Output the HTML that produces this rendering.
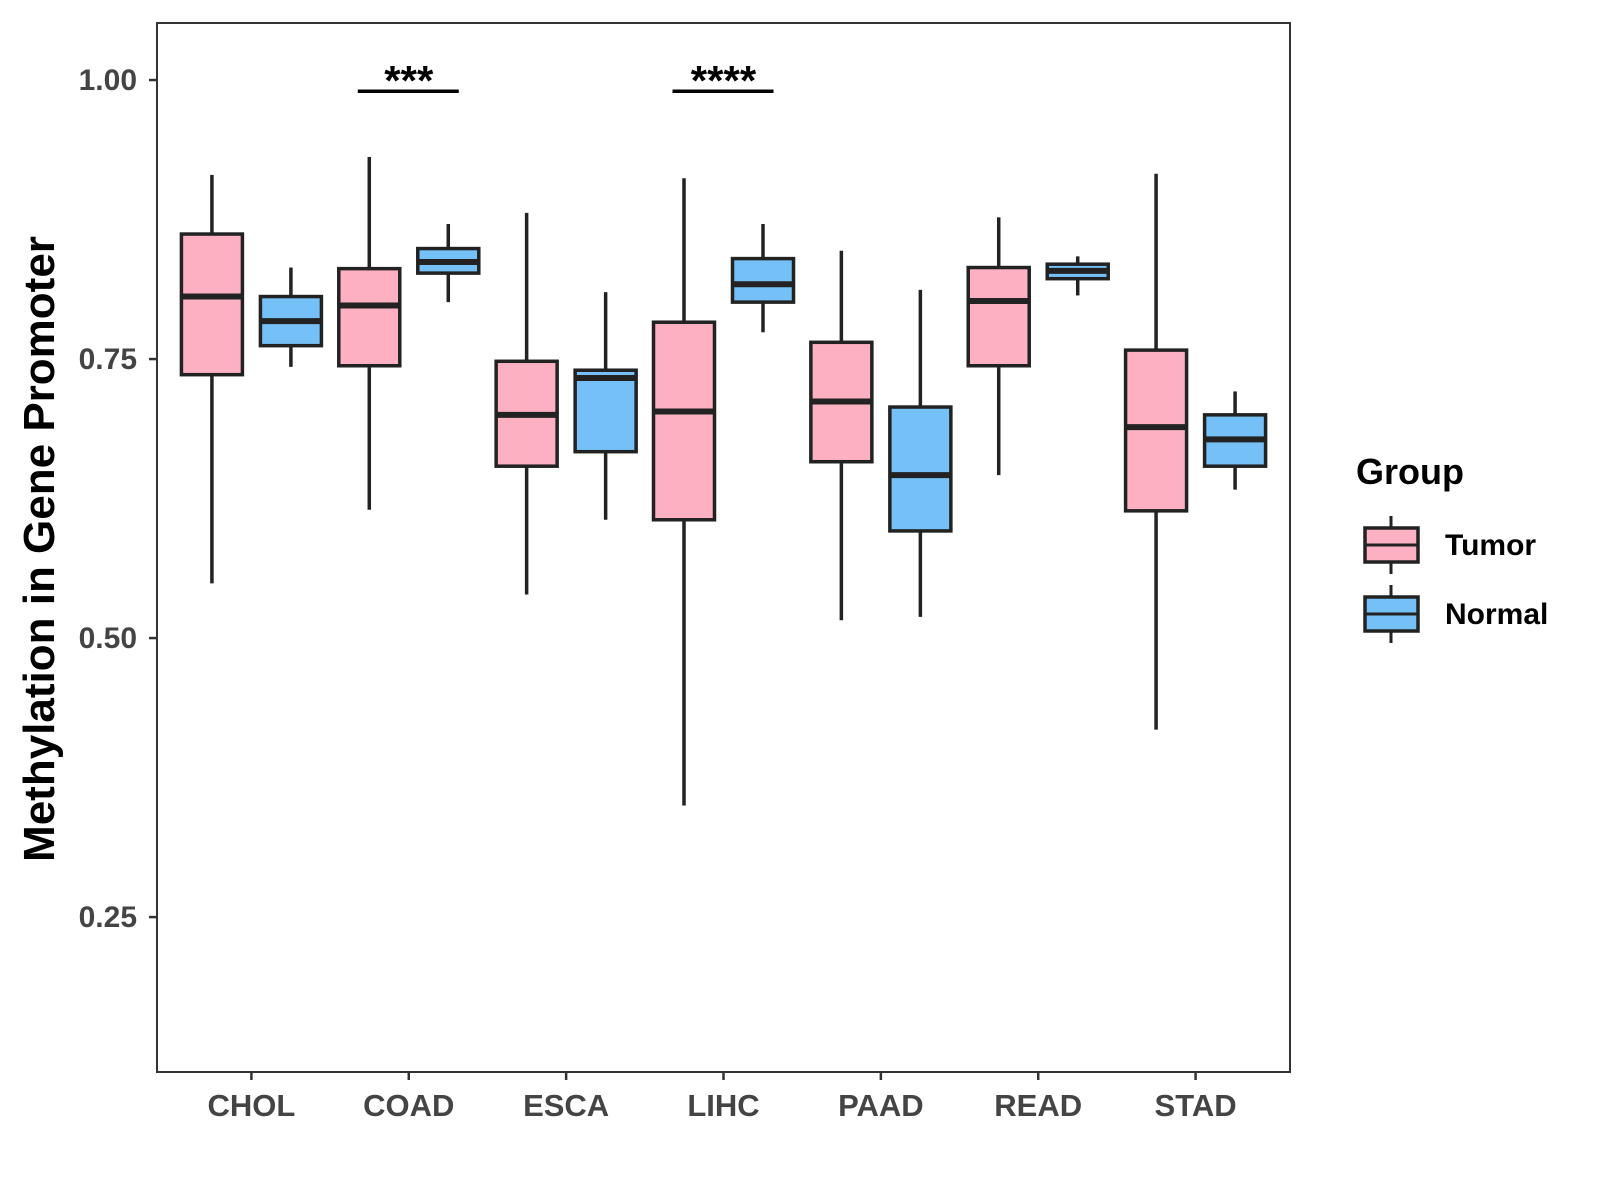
<!DOCTYPE html>
<html><head><meta charset="utf-8"><style>
html,body{margin:0;padding:0;background:#fff;}
svg{display:block;font-family:"Liberation Sans",Arial,sans-serif;}
</style></head><body>
<svg id="chart" width="1600" height="1200" viewBox="0 0 1600 1200">
<rect x="0" y="0" width="1600" height="1200" fill="#fff"/>
<g id="plot"></g>
</svg>
<script>
const categories = ["CHOL","COAD","ESCA","LIHC","PAAD","READ","STAD"];
// [lower whisker, Q1, median, Q3, upper whisker]
const tumorStats = [
 [0.549,0.736,0.806,0.862,0.915],
 [0.615,0.744,0.798,0.831,0.931],
 [0.539,0.654,0.700,0.748,0.881],
 [0.350,0.606,0.703,0.783,0.912],
 [0.516,0.658,0.712,0.765,0.847],
 [0.646,0.744,0.802,0.832,0.877],
 [0.418,0.614,0.689,0.758,0.916]
];
const normalStats = [
 [0.743,0.762,0.784,0.806,0.832],
 [0.801,0.827,0.837,0.849,0.871],
 [0.606,0.667,0.733,0.740,0.810],
 [0.774,0.801,0.817,0.840,0.871],
 [0.519,0.596,0.646,0.707,0.812],
 [0.807,0.822,0.829,0.835,0.842],
 [0.633,0.654,0.678,0.700,0.721]
];
const yTicks = [0.25,0.50,0.75,1.00];
const yTickLabels = ["0.25","0.50","0.75","1.00"];
const sigCategories = ["COAD","LIHC"];
const sigLabels = ["***","****"];
const sigLevel = 0.990;

const NS="http://www.w3.org/2000/svg";
const P={l:157,r:1290,t:23,b:1072};
const yMin=0.1112, yMax=1.0511;
function y(v){return P.b-(v-yMin)/(yMax-yMin)*(P.b-P.t);}
const step=(P.r-P.l)/(categories.length-1+1.2);
function x(i){return P.l+step*(0.6+i);}
const g=document.getElementById('plot');
function el(tag,attrs,parent){const e=document.createElementNS(NS,tag);for(const k in attrs)e.setAttribute(k,attrs[k]);(parent||g).appendChild(e);return e;}

const border=el('rect',{x:P.l,y:P.t,width:P.r-P.l,height:P.b-P.t,fill:'none',stroke:'#333','stroke-width':2});



yTicks.forEach((v,i)=>{
 const t=el('line',{x1:P.l-8,x2:P.l,y1:y(v),y2:y(v),stroke:'#333','stroke-width':2.5});
 
 
 const lb=el('text',{x:P.l-20,y:y(v)+10,'text-anchor':'end','font-size':30,'font-weight':'bold',fill:'#444'});
 lb.textContent=yTickLabels[i];
 
 
});
categories.forEach((c,i)=>{
 const t=el('line',{x1:x(i),x2:x(i),y1:P.b,y2:P.b+8,stroke:'#333','stroke-width':2.5});
 
 
 const lb=el('text',{x:x(i),y:P.b+44,'text-anchor':'middle','font-size':31,'font-weight':'bold',fill:'#444'});
 lb.textContent=c;
 
 
});

const off=39.5, bw=61;
function box(cx,s,fill,name){
 const grp=el('g',{});
 
 
 el('line',{x1:cx,x2:cx,y1:y(s[3]),y2:y(s[4]),stroke:'#222','stroke-width':3.5},grp);
 el('line',{x1:cx,x2:cx,y1:y(s[0]),y2:y(s[1]),stroke:'#222','stroke-width':3.5},grp);
 el('rect',{x:cx-bw/2,y:y(s[3]),width:bw,height:y(s[1])-y(s[3]),fill:fill,stroke:'#222','stroke-width':3.5},grp);
 el('line',{x1:cx-bw/2,x2:cx+bw/2,y1:y(s[2]),y2:y(s[2]),stroke:'#222','stroke-width':6},grp);
}
categories.forEach((c,i)=>{
 box(x(i)-off,tumorStats[i],'#FCB0C1','box-tumor-'+c.toLowerCase());
 box(x(i)+off,normalStats[i],'#75C1F7','box-normal-'+c.toLowerCase());
});

sigCategories.forEach((c,k)=>{
 const i=categories.indexOf(c);
 const ln=el('line',{x1:x(i)-51,x2:x(i)+50,y1:y(sigLevel),y2:y(sigLevel),stroke:'#000','stroke-width':3.5});
 
 
 const t=el('text',{x:x(i),y:y(sigLevel)+4,'text-anchor':'middle','font-size':42,'font-weight':'bold',fill:'#000'});
 t.textContent=sigLabels[k];
 
 
});

const yt=el('text',{x:0,y:0,transform:'translate(54,549) rotate(-90)','text-anchor':'middle','font-size':44,'font-weight':'bold',fill:'#000'});
yt.textContent='Methylation in Gene Promoter';



const lg=el('g',{});


const lt=el('text',{x:1356,y:484,'font-size':36,'font-weight':'bold',fill:'#000'},lg);
lt.textContent='Group';


[['Tumor','#FCB0C1',545],['Normal','#75C1F7',614]].forEach(([n,f,cy])=>{
 const e=el('g',{},lg);
 
 
 el('line',{x1:1391,x2:1391,y1:cy-29,y2:cy+29,stroke:'#222','stroke-width':3},e);
 el('rect',{x:1365,y:cy-17,width:53,height:34,fill:f,stroke:'#222','stroke-width':3.5},e);
 el('line',{x1:1365,x2:1418,y1:cy,y2:cy,stroke:'#222','stroke-width':3},e);
 const tx=el('text',{x:1445,y:cy+10,'font-size':30,'font-weight':'bold',fill:'#000'},e);
 tx.textContent=n;
});
</script>
</body></html>
